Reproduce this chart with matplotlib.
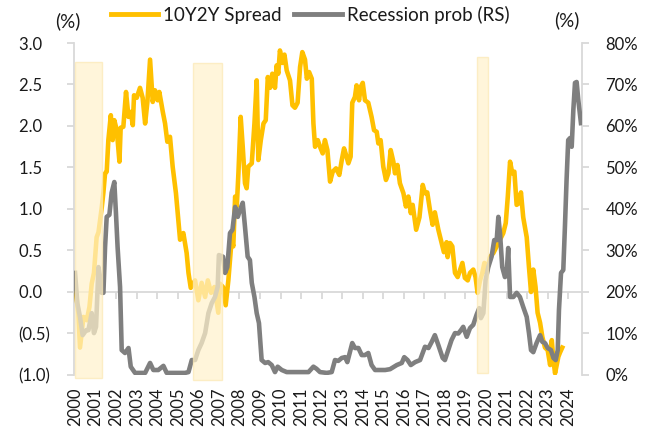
import matplotlib
matplotlib.use("Agg")
import matplotlib.pyplot as plt
from matplotlib.patches import Rectangle
from matplotlib.lines import Line2D

plt.rcParams['font.family'] = ['Lato', 'DejaVu Sans']

# ---- data (decimal year, value) ----
spread_t = [2000.00, 2000.16, 2000.24, 2000.41, 2000.57, 2000.70, 2000.81, 2000.92, 2001.05, 2001.14,
            2001.30, 2001.38, 2001.46, 2001.54, 2001.62, 2001.74, 2001.83, 2001.91, 2002.03, 2002.16,
            2002.22, 2002.35, 2002.48, 2002.60, 2002.71, 2002.81, 2002.87, 2003.00, 2003.16, 2003.29,
            2003.41, 2003.52, 2003.65, 2003.78, 2003.89, 2004.02, 2004.10, 2004.27, 2004.38, 2004.49,
            2004.62, 2004.75, 2004.91, 2005.03, 2005.11, 2005.27, 2005.43, 2005.52, 2005.63, 2005.84,
            2006.00, 2006.16, 2006.33, 2006.46, 2006.62, 2006.78, 2006.97, 2007.05, 2007.20, 2007.33,
            2007.46, 2007.62, 2007.70, 2007.79, 2007.87, 2007.95, 2008.06, 2008.16, 2008.27, 2008.35,
            2008.43, 2008.60, 2008.73, 2008.84, 2008.92, 2009.04, 2009.17, 2009.28, 2009.38, 2009.49,
            2009.60, 2009.73, 2009.81, 2009.89, 2009.97, 2010.09, 2010.19, 2010.30, 2010.46, 2010.58,
            2010.70, 2010.83, 2010.95, 2011.06, 2011.19, 2011.28, 2011.39, 2011.52, 2011.60, 2011.68,
            2011.81, 2011.92, 2012.05, 2012.16, 2012.28, 2012.41, 2012.54, 2012.70, 2012.86, 2012.98,
            2013.09, 2013.19, 2013.30, 2013.41, 2013.49, 2013.62, 2013.70, 2013.82, 2013.90, 2014.00,
            2014.11, 2014.27, 2014.43, 2014.55, 2014.68, 2014.76, 2014.87, 2015.00, 2015.13, 2015.25,
            2015.36, 2015.49, 2015.57, 2015.69, 2015.81, 2015.98, 2016.10, 2016.22, 2016.34, 2016.43,
            2016.60, 2016.76, 2016.92, 2017.03, 2017.14, 2017.27, 2017.40, 2017.51, 2017.68, 2017.84,
            2017.95, 2018.08, 2018.13, 2018.25, 2018.36, 2018.49, 2018.62, 2018.74, 2018.85, 2018.97,
            2019.11, 2019.22, 2019.38, 2019.49, 2019.59, 2019.71, 2019.82, 2019.92, 2020.03, 2020.19,
            2020.36, 2020.52, 2020.68, 2020.84, 2020.96, 2021.06, 2021.17, 2021.28, 2021.38, 2021.49,
            2021.60, 2021.70, 2021.81, 2021.98, 2022.09, 2022.19, 2022.30, 2022.41, 2022.51, 2022.63,
            2022.74, 2022.87, 2023.00, 2023.12, 2023.20, 2023.28, 2023.36, 2023.52, 2023.60, 2023.71]
spread_v = [0.08, -0.25, -0.67, -0.30, -0.34, -0.18, 0.10, 0.23, 0.66, 0.72,
            1.02, 1.20, 1.43, 1.45, 1.83, 2.13, 1.83, 2.07, 1.95, 1.57,
            1.98, 1.99, 2.41, 2.11, 2.17, 2.01, 2.37, 2.34, 2.46, 2.34,
            2.03, 2.29, 2.80, 2.29, 2.43, 2.31, 2.41, 2.17, 2.03, 1.81,
            1.87, 1.51, 1.19, 0.85, 0.63, 0.71, 0.47, 0.23, 0.05, 0.14,
            -0.10, 0.11, -0.06, 0.14, -0.01, 0.06, -0.25, 0.10, 0.06, -0.16,
            0.14, 0.63, 0.55, 1.15, 1.03, 1.43, 2.11, 1.75, 1.31, 1.25,
            1.51, 1.55, 2.03, 2.55, 1.59, 1.83, 2.03, 2.07, 2.59, 2.46,
            2.63, 2.46, 2.73, 2.63, 2.91, 2.76, 2.86, 2.67, 2.55, 2.25,
            2.22, 2.28, 2.71, 2.89, 2.80, 2.57, 2.65, 2.57, 2.03, 1.75,
            1.83, 1.75, 1.67, 1.83, 1.71, 1.33, 1.45, 1.49, 1.41, 1.59,
            1.73, 1.65, 1.55, 1.63, 2.28, 2.35, 2.49, 2.31, 2.47, 2.52,
            2.31, 2.28, 2.11, 1.95, 1.93, 1.79, 1.83, 1.51, 1.35, 1.43,
            1.71, 1.57, 1.43, 1.53, 1.31, 1.19, 1.03, 1.15, 0.95, 1.05,
            0.75, 0.90, 1.29, 1.19, 1.20, 0.99, 0.81, 0.96, 0.75, 0.59,
            0.48, 0.60, 0.42, 0.59, 0.55, 0.23, 0.18, 0.27, 0.35, 0.17,
            0.14, 0.23, 0.27, 0.18, -0.01, 0.14, 0.23, 0.35, 0.23, 0.42,
            0.47, 0.55, 0.63, 0.71, 0.83, 1.15, 1.57, 1.43, 1.45, 1.05,
            1.07, 1.20, 0.90, 0.66, 0.30, 0.00, 0.27, 0.06, -0.25, -0.37,
            -0.54, -0.67, -0.70, -0.88, -0.58, -0.82, -0.98, -0.78, -0.73, -0.67]

prob_t = [2000.00, 2000.11, 2000.24, 2000.37, 2000.54, 2000.65, 2000.81, 2000.92, 2001.02, 2001.14,
          2001.30, 2001.38, 2001.46, 2001.54, 2001.67, 2001.78, 2001.91, 2001.99, 2002.07, 2002.19,
          2002.27, 2002.43, 2002.60, 2002.71, 2002.92, 2003.41, 2003.65, 2003.81, 2004.05, 2004.30,
          2004.46, 2005.11, 2005.35, 2005.52, 2005.68, 2005.84, 2006.00, 2006.16, 2006.33, 2006.49,
          2006.65, 2006.81, 2006.94, 2007.00, 2007.20, 2007.30, 2007.41, 2007.54, 2007.66, 2007.79,
          2007.92, 2008.03, 2008.16, 2008.27, 2008.40, 2008.51, 2008.60, 2008.73, 2008.84, 2008.95,
          2009.08, 2009.25, 2009.40, 2009.57, 2009.73, 2009.86, 2010.06, 2010.30, 2011.36, 2011.60,
          2011.75, 2011.92, 2012.25, 2012.49, 2012.65, 2012.81, 2012.98, 2013.14, 2013.25, 2013.49,
          2013.62, 2013.79, 2013.95, 2014.11, 2014.27, 2014.43, 2014.60, 2014.84, 2015.09, 2015.33,
          2015.66, 2015.90, 2016.02, 2016.18, 2016.34, 2016.55, 2016.79, 2017.03, 2017.20, 2017.36,
          2017.51, 2017.68, 2017.89, 2018.00, 2018.16, 2018.32, 2018.49, 2018.65, 2018.78, 2018.89,
          2019.06, 2019.22, 2019.38, 2019.54, 2019.67, 2019.75, 2019.87, 2019.98, 2020.11, 2020.27,
          2020.40, 2020.52, 2020.60, 2020.68, 2020.79, 2020.92, 2021.00, 2021.08, 2021.17, 2021.33,
          2021.49, 2021.65, 2021.81, 2021.98, 2022.09, 2022.19, 2022.30, 2022.46, 2022.63, 2022.74,
          2022.87, 2023.00, 2023.16, 2023.28, 2023.39, 2023.49, 2023.55, 2023.65, 2023.76, 2023.84,
          2023.92, 2024.00, 2024.09, 2024.17, 2024.25, 2024.33, 2024.41, 2024.49, 2024.62]
prob_v = [24.6, 17.3, 14.0, 9.6, 10.8, 10.8, 14.9, 10.1, 11.6, 26.0,
          19.8, 19.8, 30.8, 38.1, 38.6, 43.9, 46.5, 39.0, 30.8, 21.2,
          6.0, 5.3, 6.5, 2.0, 0.5, 0.5, 2.9, 1.2, 1.2, 2.2,
          0.5, 0.5, 0.5, 0.7, 3.6, 3.6, 6.0, 7.7, 10.1, 14.9,
          17.3, 18.8, 21.2, 28.9, 28.5, 24.6, 26.0, 34.2, 35.0, 40.5,
          38.1, 39.8, 41.5, 35.7, 28.5, 27.7, 22.2, 18.8, 14.9, 12.5,
          3.6, 2.9, 3.1, 2.4, 0.7, 2.0, 1.2, 0.7, 0.7, 2.0,
          1.5, 0.7, 0.5, 0.7, 3.6, 3.4, 4.1, 4.3, 3.1, 7.7,
          6.5, 6.5, 4.8, 4.8, 5.3, 2.4, 1.2, 1.2, 1.2, 1.4,
          2.4, 2.9, 4.3, 3.6, 2.4, 3.1, 3.6, 6.8, 6.5, 8.0,
          9.6, 7.2, 4.1, 3.6, 6.0, 8.4, 10.1, 10.0, 10.8, 11.6,
          9.2, 11.3, 12.1, 14.5, 16.1, 13.7, 14.9, 22.9, 26.0, 28.5,
          32.5, 32.5, 38.1, 34.2, 26.0, 23.6, 24.0, 30.6, 18.8, 18.8,
          19.8, 18.8, 16.4, 14.0, 10.1, 6.0, 5.5, 7.7, 9.6, 8.0,
          7.7, 6.5, 6.0, 4.1, 3.6, 6.0, 15.7, 24.6, 25.3, 35.7,
          47.0, 56.6, 57.1, 55.0, 63.9, 70.4, 70.6, 66.3, 60.7]

# shaded periods (start, end, bottom, top) in left-axis units
shade_start = [2000.00, 2005.73, 2019.58]
shade_end = [2001.30, 2007.14, 2020.11]
shade_bottom = [-1.04, -1.06, -0.98]
shade_top = [2.775, 2.755, 2.83]

years = list(range(2000, 2025))
left_ticks = [-1.0, -0.5, 0.0, 0.5, 1.0, 1.5, 2.0, 2.5, 3.0]
right_ticks = [0, 10, 20, 30, 40, 50, 60, 70, 80]

YELLOW = '#FFC000'
GRAY = '#7F7F7F'
AXC = '#D9D9D9'
TXT = '#1A1A1A'
FS = 12

fig = plt.figure(figsize=(6.46, 4.37), dpi=100)
ax = fig.add_axes([0.1146, 0.1419, 0.7863, 0.7597])
ax2 = ax.twinx()

ax.plot(spread_t, spread_v, color=YELLOW, lw=3.3, solid_joinstyle='round', zorder=3)
ax2.plot(prob_t, prob_v, color=GRAY, lw=3.3, solid_joinstyle='round', zorder=3)

for s, e, b, t in zip(shade_start, shade_end, shade_bottom, shade_top):
    ax2.add_patch(Rectangle((s, b), e - s, t - b, transform=ax.transData,
                            facecolor='#FFF2CC', edgecolor='#FCE9B5', lw=1.0,
                            alpha=0.72, zorder=5, clip_on=False))

ax.set_xlim(1999.95, 2024.67)
ax.set_ylim(-1.0, 3.0)
ax2.set_ylim(0, 80)

def fmt_left(v):
    if v < 0:
        return '({:.1f})'.format(-v)
    return '{:.1f}\u2002'.format(v)

ax.set_yticks(left_ticks)
ax.set_yticklabels([fmt_left(v) for v in left_ticks])
ax2.set_yticks(right_ticks)
ax2.set_yticklabels(['{}%'.format(v) for v in right_ticks])

for a in (ax, ax2):
    for sp in a.spines.values():
        sp.set_color(AXC)
        sp.set_linewidth(1.3)
    a.spines['top'].set_visible(False)

ax.spines['right'].set_visible(False)
ax2.spines['left'].set_visible(False)
ax2.spines['bottom'].set_visible(False)
ax.spines['bottom'].set_position(('data', 0))

ax.tick_params(axis='y', colors=AXC, length=5, width=1.3, pad=12, labelsize=FS, labelcolor=TXT)
ax2.tick_params(axis='y', colors=AXC, length=5, width=1.3, pad=12, labelsize=FS, labelcolor=TXT)
ax.set_xticks(years)
ax.tick_params(axis='x', colors=AXC, length=5, width=1.3, labelbottom=False)

sec = ax.secondary_xaxis('bottom')
sec.set_xticks(years)
sec.set_xticklabels([str(y) for y in years], rotation=90)
sec.tick_params(axis='x', length=0, pad=8.7, labelsize=FS, labelcolor=TXT)
sec.spines['bottom'].set_visible(False)

fig.text(68 / 646, 1 - 21 / 437, '(%)', ha='center', va='center', fontsize=13.5, color=TXT)
fig.text(567 / 646, 1 - 20 / 437, '(%)', ha='center', va='center', fontsize=13.5, color=TXT)

handles = [Line2D([0], [0], color=YELLOW, lw=3.5), Line2D([0], [0], color=GRAY, lw=3.5)]
fig.legend(handles, ['10Y2Y Spread', 'Recession prob (RS)'], loc='center',
           bbox_to_anchor=(310 / 646, 1 - 15 / 437), ncol=2, frameon=False,
           fontsize=13.5, handlelength=2.55, handletextpad=0.27, columnspacing=0.64,
           labelcolor=TXT, borderpad=0.2)

fig.savefig('out.png', dpi=100)
